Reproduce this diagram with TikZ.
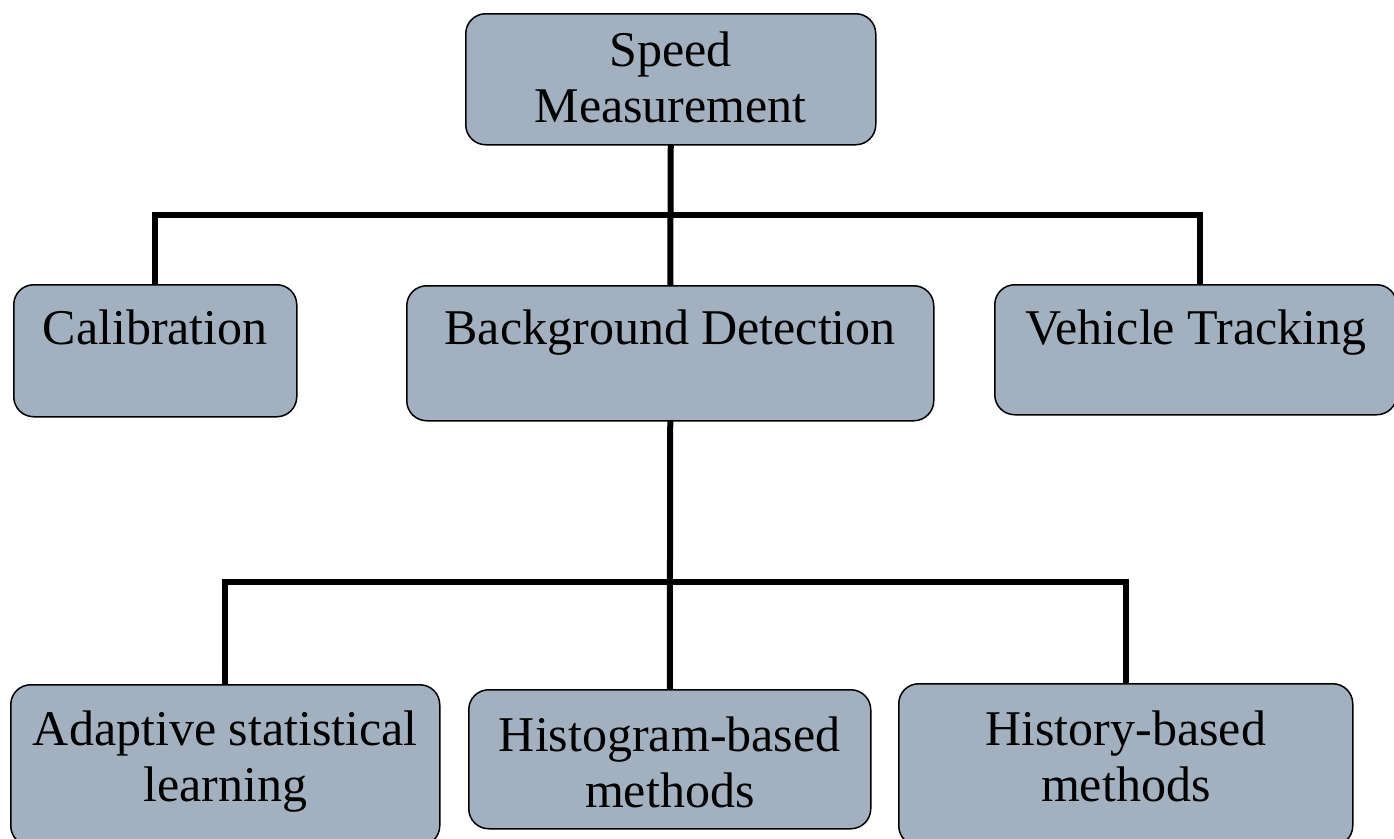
\documentclass[tikz,border=0pt]{standalone}
\usepackage{fontspec}
\setmainfont{Liberation Serif}
\usetikzlibrary{backgrounds}
\definecolor{boxfill}{RGB}{163,176,191}
\begin{document}
\begin{tikzpicture}[x=1pt,y=-1pt,
  box/.style={draw=black, line width=1.5pt, fill=boxfill, rounded corners=20pt,
    anchor=north west, inner xsep=0pt, inner ysep=0pt, align=flush center,
    font=\fontsize{50}{56}\selectfont},
  conn/.style={line width=6pt, line join=miter, line cap=rect}]
\useasboundingbox (0,0) rectangle (1394,838);
\node[box, text width=410pt, text height=53pt, text depth=78pt] (top) at (465,13) {Speed\\Measurement};
\node[box, text width=283pt, text height=60pt, text depth=72pt] (cal) at (13,284) {Calibration};
\node[box, text width=527pt, text height=59pt, text depth=76pt] (bg) at (406,285) {Background Detection};
\node[box, text width=402pt, text height=60pt, text depth=70pt] (veh) at (994,284) {Vehicle Tracking};
\node[box, text width=429pt, text height=61pt, text depth=100pt] (ada) at (10,684) {Adaptive statistical\\learning};
\node[box, text width=402pt, text height=62pt, text depth=77pt] (hgm) at (468,689) {Histogram-based\\methods};
\node[box, text width=454pt, text height=62pt, text depth=100pt] (his) at (898,683) {History-based\\methods};
\coordinate (h1l) at (155,215);
\coordinate (h1r) at (1200,215);
\coordinate (h2) at (669,582);
\begin{scope}[on background layer]
\draw[conn] (top.south) -- (bg.north);
\draw[conn] (h1l |- cal.north) -- (h1l) -- (h1r) -- (h1r |- veh.north);
\draw[conn] (bg.south) -- (hgm.north);
\draw[conn] (ada.north) -- (ada.north |- h2) -- (his.north |- h2) -- (his.north);
\end{scope}
\end{tikzpicture}
\end{document}
